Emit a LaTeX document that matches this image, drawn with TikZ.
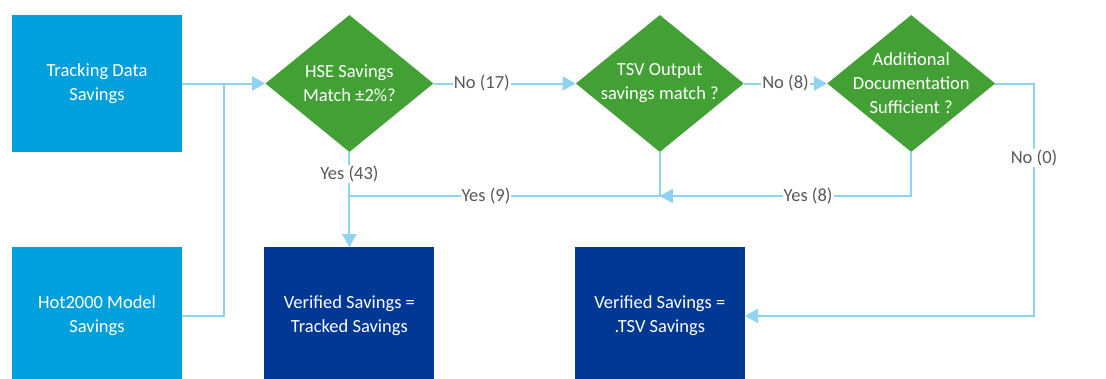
\documentclass[tikz,border=0pt]{standalone}
\usepackage{fontspec}
\setmainfont{Carlito}
\usepackage{tikz}
\usetikzlibrary{shapes.geometric}
\usetikzlibrary{positioning}
\usetikzlibrary{arrows.meta}
\definecolor{srcblue}{HTML}{00A0DC}
\definecolor{qgreen}{HTML}{43A035}
\definecolor{resblue}{HTML}{003893}
\definecolor{flowblue}{HTML}{8ED3F2}
\definecolor{lblgray}{HTML}{595959}
\newcommand{\flowfont}{\fontsize{18.5}{24}\selectfont}
\tikzstyle{source} = [rectangle, minimum width=170pt, minimum height=137pt, text centered, align=center, fill=srcblue, text=white, font=\flowfont]
\tikzstyle{decision} = [diamond, minimum width=168pt, minimum height=137pt, inner sep=0pt, fill=qgreen]
\tikzstyle{qtext} = [align=center, text=white, font=\flowfont]
\tikzstyle{result} = [rectangle, minimum width=170pt, minimum height=137pt, text centered, align=center, fill=resblue, text=white, font=\flowfont]
\tikzstyle{answer} = [fill=white, inner sep=1pt, text=lblgray, font=\flowfont]
\tikzstyle{line} = [line width=2pt, draw=flowblue]
\tikzstyle{arrow} = [line width=2pt, draw=flowblue, -{Triangle[length=13pt,width=14pt]}]

\begin{document}
\begin{tikzpicture}[x=1pt, y=1pt, node distance=95pt and 83pt]
        \useasboundingbox (0,0) rectangle (1106,-378);

        \node (track) [source] at (97,-83.5) {Tracking Data\\Savings};
        \node (hot) [source, below=of track] {Hot2000 Model\\Savings};
        \node (hse) [decision, right=of track] {};
        \node (tsv) [decision, right=142pt of hse] {};
        \node (add) [decision, right=of tsv] {};
        \node (vertrack) [result, below=of hse] {Verified Savings =\\Tracked Savings};
        \node (vertsv) [result, below=of tsv] {Verified Savings =\\.TSV Savings};

        \node (hseq) [qtext] at (hse) {HSE Savings\\Match ±2\%?};
        \node (tsvq) [qtext] at (tsv) {TSV Output\\savings match ?};
        \node (addq) [qtext] at (add) {Additional\\Documentation\\Sufficient ?};

        \coordinate (join) at (224,-83.5);
        \coordinate (yesrow) at (0,-196);
        \coordinate (noturn) at (1034,-83.5);

        \draw [arrow] (track) -- (hse);
        \draw [line] (hot) -| (join);
        \draw [arrow] (hse) -- node[answer, pos=0.34] {No (17)} (tsv);
        \draw [arrow] (tsv) -- node[answer] {No (8)} (add);
        \draw [arrow] (hse) -- node[answer, pos=0.23] {Yes (43)} (vertrack);
        \draw [line] (tsv) |- node[answer, pos=0.78] {Yes (9)} (hse.south |- yesrow);
        \draw [arrow] (add) |- node[answer, pos=0.705] {Yes (8)} (tsv.south |- yesrow);
        \draw [arrow] (add) -- (noturn) |- node[answer, pos=0.16] {No (0)} (vertsv);

    \end{tikzpicture}
\end{document}
